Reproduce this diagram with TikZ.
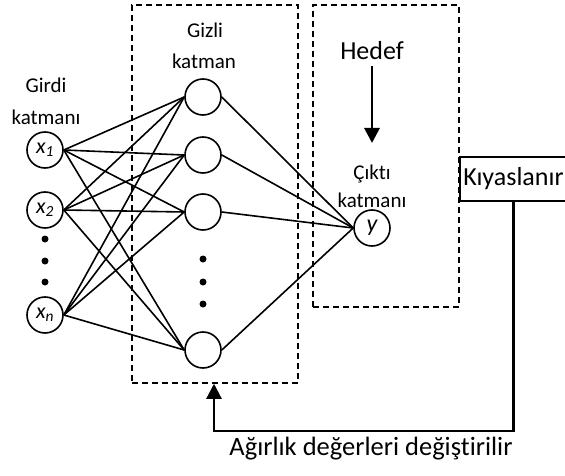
\documentclass[tikz,border=0pt]{standalone}
\usepackage{fontspec}
\setmainfont{Carlito}[Ligatures=NoCommon]
\usetikzlibrary{arrows.meta}
\begin{document}
\begin{tikzpicture}[x=1pt,y=-1pt,
  neuron/.style={draw,circle,line width=1.6pt,minimum size=36pt,inner sep=0pt,font=\fontsize{22}{24}\selectfont\itshape},
  lbl/.style={anchor=base,inner sep=0pt,font=\fontsize{21}{24}\selectfont},
  dbox/.style={draw,dash pattern=on 6pt off 4pt,line width=1.5pt,inner sep=0pt},
  conn/.style={line width=1.6pt},
  dotn/.style={fill,circle,inner sep=0pt,minimum size=7pt}]
\useasboundingbox (0,0) rectangle (565,476);
% dashed boxes
\node[dbox,minimum width=166pt,minimum height=378pt] (hbox) at (215,194) {};
\node[dbox,minimum width=146pt,minimum height=302pt] (obox) at (386,156) {};
% labels
\node[lbl] (girdi) at (46,93) {Girdi};
\node[lbl] (girdik) at (46,125) {katmanı};
\node[lbl] (gizli) at (205,38) {Gizli};
\node[lbl] (gizlik) at (204,69) {katman};
\node[lbl] (cikti) at (372,179) {Çıktı};
\node[lbl] (ciktik) at (372,207) {katmanı};
\node[lbl,font=\fontsize{26}{28}\selectfont] (hedef) at (372,60) {Hedef};
% input nodes
\node[neuron] (x1) at (45,150) {x\textsubscript{1}};
\node[neuron] (x2) at (45,210) {x\textsubscript{2}};
\node[neuron] (xn) at (45,315) {x\textsubscript{n}};
\node[dotn] (d1) at (45,239) {};
\node[dotn] (d2) at (45,261) {};
\node[dotn] (d3) at (45,282) {};
% hidden nodes
\node[neuron] (h1) at (203,97) {};
\node[neuron] (h2) at (203,155) {};
\node[neuron] (h3) at (203,212) {};
\node[neuron] (h4) at (203,350) {};
\node[dotn] (e1) at (203,259) {};
\node[dotn] (e2) at (203,282) {};
\node[dotn] (e3) at (203,304) {};
% output node
\node[neuron,font=\fontsize{24}{26}\selectfont\itshape] (y) at (372,228) {y};
% comparator
\node[draw,line width=1.6pt,minimum width=107pt,minimum height=44pt,inner sep=0pt,
  font=\fontsize{26}{28}\selectfont] (kiy) at (513.5,179) {Kıyaslanır};
% connections
\foreach \i in {x1,x2,xn}{
  \foreach \h in {h1,h2,h3,h4}{
    \draw[conn] (\i.east) -- (\h.west);
  }
}
\foreach \h in {h1,h2,h3,h4}{
  \draw[conn] (\h.east) -- (y.west);
}
% target arrow
\coordinate (hend) at (372,143);
\draw[line width=2.8pt,-{Triangle[length=15pt,width=15pt]}] (hedef.south) ++(0,6) -- (hend);
% feedback
\coordinate (fb) at (214,431);
\draw[line width=2.2pt,-{Triangle[length=15pt,width=15pt]}] (kiy.south) |- (fb) -- (fb |- hbox.south);
\node[lbl,font=\fontsize{26.5}{30}\selectfont] (agirlik) at (371,455) {Ağırlık değerleri değiştirilir};
\end{tikzpicture}
\end{document}
